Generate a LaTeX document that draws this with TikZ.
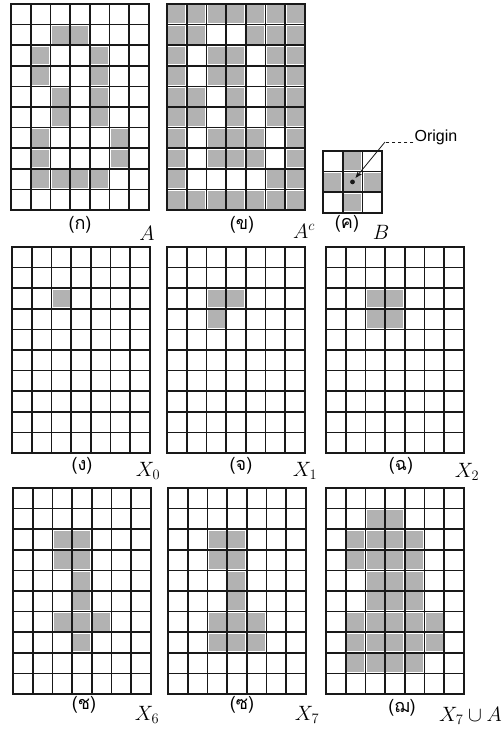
\documentclass[tikz,border=0pt]{standalone}
\usepackage{fontspec}
\usepackage{tikz}
\usetikzlibrary{arrows.meta, calc}
\newfontfamily\thaifont[Script=Thai]{Loma}
\newfontfamily\labelsans{Liberation Sans}
\definecolor{pixgray}{RGB}{178,178,178}
\definecolor{inkdark}{RGB}{25,25,25}
\tikzset{
  gridline/.style={line width=1.6pt, color=inkdark, line cap=rect},
  pixel/.style={fill=pixgray},
  sublabel/.style={font=\thaifont\fontsize{18}{20}\selectfont, inner sep=0pt},
  setlabel/.style={font=\fontsize{22}{24}\selectfont, inner sep=0pt},
  leader/.style={line width=0.8pt, color=inkdark}
}
% binary image: #1,#2 top-left corner, #3 columns, #4 rows, #5 filled cells col/row
\newcommand{\pixgrid}[5]{%
  \begin{scope}[shift={(#1,#2)}, x=19.7pt, y=-20.6pt]
    \foreach \c/\r in {#5} \fill[pixel] (\c+0.07,\r+0.07) rectangle (\c+0.93,\r+0.93);
    \foreach \i in {0,...,#3} \draw[gridline] (\i,0) -- (\i,#4);
    \foreach \j in {0,...,#4} \draw[gridline] (0,\j) -- (#3,\j);
  \end{scope}}
\begin{document}
\begin{tikzpicture}[x=1pt, y=-1pt]
  \useasboundingbox (0,0) rectangle (503,729);

  % Row 1: A, complement of A, structuring element B
  \pixgrid{11}{4}{7}{10}{2/1,3/1, 1/2,4/2, 1/3,4/3, 2/4,4/4, 2/5,4/5, 1/6,5/6, 1/7,5/7, 1/8,2/8,3/8,4/8}
  \pixgrid{167}{4}{7}{10}{0/0,1/0,2/0,3/0,4/0,5/0,6/0,
    0/1,1/1,4/1,5/1,6/1, 0/2,2/2,3/2,5/2,6/2, 0/3,2/3,3/3,5/3,6/3,
    0/4,1/4,3/4,5/4,6/4, 0/5,1/5,3/5,5/5,6/5, 0/6,2/6,3/6,4/6,6/6,
    0/7,2/7,3/7,4/7,6/7, 0/8,5/8,6/8,
    0/9,1/9,2/9,3/9,4/9,5/9,6/9}
  \pixgrid{323}{151}{3}{3}{1/0, 0/1,1/1,2/1, 1/2}

  % Origin of B
  \coordinate (bctr) at (352.5,181.9);
  \fill[inkdark] (bctr) circle (2.4pt);
  \node[font=\labelsans\fontsize{16}{18}\selectfont, inner sep=1pt] (origin) at (436,137) {Origin};
  \coordinate (bend) at (385,142);
  \draw[leader, dashed] (origin.west |- bend) -- (bend);
  \draw[leader, -{Stealth[length=7pt]}] (bend) -- ($(bctr)+(3,-4)$);

  \node[sublabel] (lbla) at (80,225) {(ก)};
  \node[setlabel] (seta) at (147,233) {$A$};
  \node[sublabel] (lblb) at (242,225) {(ข)};
  \node[setlabel] (setac) at (304,231) {$A^{c}$};
  \node[sublabel] (lblc) at (347,224) {(ค)};
  \node[setlabel] (setb) at (381,232) {$B$};

  % Row 2: first iterations
  \pixgrid{12}{247}{7}{10}{2/2}
  \pixgrid{167}{247}{7}{10}{2/2,3/2, 2/3}
  \pixgrid{326}{247}{7}{10}{2/2,3/2, 2/3,3/3}

  \node[sublabel] (lbld) at (82,466) {(ง)};
  \node[setlabel] (setx0) at (148,471) {$X_0$};
  \node[sublabel] (lble) at (241,466) {(จ)};
  \node[setlabel] (setx1) at (305,471) {$X_1$};
  \node[sublabel] (lblf) at (401,466) {(ฉ)};
  \node[setlabel] (setx2) at (467,472) {$X_2$};

  % Row 3: final iterations and union with A
  \pixgrid{13}{488}{7}{10}{2/2,3/2, 2/3,3/3, 3/4, 3/5, 2/6,3/6,4/6, 3/7}
  \pixgrid{168}{488}{7}{10}{2/2,3/2, 2/3,3/3, 3/4, 3/5, 2/6,3/6,4/6, 2/7,3/7,4/7}
  \pixgrid{326}{488}{7}{10}{2/1,3/1, 1/2,2/2,3/2,4/2, 1/3,2/3,3/3,4/3,
    2/4,3/4,4/4, 2/5,3/5,4/5, 1/6,2/6,3/6,4/6,5/6, 1/7,2/7,3/7,4/7,5/7,
    1/8,2/8,3/8,4/8}

  \node[sublabel] (lblg) at (84,705) {(ช)};
  \node[setlabel] (setx6) at (147,715) {$X_6$};
  \node[sublabel] (lblh) at (242,705) {(ซ)};
  \node[setlabel] (setx7) at (307,715) {$X_7$};
  \node[sublabel] (lbli) at (402,708) {(ฌ)};
  \node[setlabel, anchor=east] (setxa) at (502,716) {$X_7 \cup A$};
\end{tikzpicture}
\end{document}
